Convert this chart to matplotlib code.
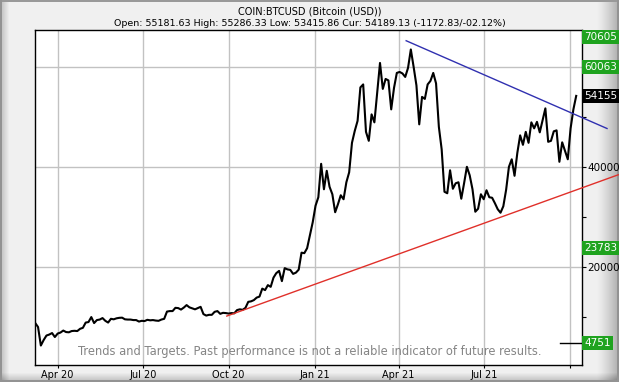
import numpy as np
import pandas as pd
import matplotlib
matplotlib.use("Agg")
import matplotlib.pyplot as plt

# BTCUSD closes, one value every 3 days from 2020-03-08
start_date = "2020-03-08"
closes = [
    8700, 7900, 4200, 5300, 6200, 6400, 6700, 5900, 6600, 6800,
    7200, 6900, 6850, 7100, 7150, 7100, 7550, 7750, 8800, 8900,
    9900, 8700, 9300, 9400, 9700, 9150, 8800, 9550, 9450, 9650,
    9750, 9780, 9450, 9400, 9400, 9300, 9300, 9000, 9150, 9100,
    9350, 9250, 9300, 9200, 9150, 9400, 9550, 11000, 11100, 11100,
    11750, 11700, 11400, 11800, 12300, 11850, 11650, 11450, 11700, 11950,
    10500, 10200, 10350, 10350, 10950, 11100, 10550, 10750, 10700, 10600,
    10700, 10650, 11300, 11450, 11350, 11750, 12950, 13050, 13300, 13800,
    14000, 15600, 15300, 16300, 15950, 17800, 18700, 19150, 17100, 19700,
    19450, 19350, 18550, 18800, 19400, 22800, 22700, 23700, 26300, 28900,
    32200, 33900, 40600, 35500, 39200, 36000, 34500, 30900, 32500, 34300,
    33500, 36900, 38900, 44800, 47200, 49200, 55900, 56500, 47000, 45200,
    50500, 48900, 54900, 60800, 55600, 57600, 57300, 51500, 55800, 58800,
    59000, 58700, 58000, 59800, 63500, 60000, 56300, 48500, 54000, 53600,
    56500, 57200, 58800, 56700, 48000, 43500, 35000, 34700, 39300, 35600,
    36700, 36900, 33600, 36700, 40000, 38300, 35500, 31000, 31600, 34500,
    33500, 35300, 33900, 33800, 32700, 31500, 30800, 32100, 35400, 40000,
    41500, 38200, 42800, 46300, 44400, 47000, 44800, 48900, 47700, 49000,
    46900, 49300, 51700, 45000, 45200, 47100, 47300, 41000, 44900, 43200,
    41500, 47700, 51500, 54200,
]

# trend lines
resist_dates = ["2021-04-09", "2021-11-10"]
resist_prices = [65250, 47670]
support_dates = ["2020-09-29", "2021-11-22"]
support_prices = [10100, 38400]

# right hand labels
targets = [70605, 60063, 23783, 4751]
current_price = 54155
grid_levels = [20000, 40000, 60000]
major_ticks = [20000, 40000, 60000]
major_labels = ["20000", "40000", ""]
minor_ticks = [10000, 30000, 50000]

quarter_dates = ["2020-04-01", "2020-07-01", "2020-10-01", "2021-01-01",
                 "2021-04-01", "2021-07-01", "2021-10-01"]
quarter_labels = ["Apr 20", "Jul 20", "Oct 20", "Jan 21", "Apr 21", "Jul 21", ""]

title = "COIN:BTCUSD (Bitcoin (USD))"
subtitle = "Open: 55181.63 High: 55286.33 Low: 53415.86 Cur: 54189.13 (-1172.83/-02.12%)"
note = "Trends and Targets. Past performance is not a reliable indicator of future results."

W, H = 619, 382
fig = plt.figure(figsize=(W / 100, H / 100), dpi=100)

# background panel with grey frame
bg = np.full((H, W), 0.945)
xs = np.arange(W)
ramp = np.clip((xs - 596) / 23.0, 0, 1)
bg -= 0.28 * ramp[None, :] ** 1.3
lramp = np.clip(1 - xs / 9.0, 0, 1)
bg -= 0.2 * lramp[None, :]
ys = np.arange(H)
bramp = np.clip((ys - 372) / 10.0, 0, 1)
bg -= 0.22 * bramp[:, None]
bg[:2, :] = 0.6
bg[:, :2] = 0.58
bg[-2:, :] = 0.58
bg[:, -2:] = 0.58
fig.figimage(np.dstack([bg, bg, bg]), xo=0, yo=0, origin="upper", zorder=-10)

ax = fig.add_axes([34.7 / W, 1 - 365 / H, 547.3 / W, 335 / H])
ax.set_zorder(1)
ax.set_facecolor("white")

dates = pd.date_range(start_date, periods=len(closes), freq="3D")
ymin, ymax = 300, 67400
ax.set_xlim(pd.Timestamp("2020-03-07 10:00"), pd.Timestamp("2021-10-14 05:00"))
ax.set_ylim(ymin, ymax)

for lvl in grid_levels:
    ax.axhline(lvl, color="#c2c2c2", lw=1, zorder=1)
for d in quarter_dates:
    ax.axvline(pd.Timestamp(d), color="#c2c2c2", lw=1, zorder=1)

ax.plot(dates, closes, color="black", lw=1.5, zorder=3)

ax.plot(pd.to_datetime(support_dates), support_prices, color="#e0302a", lw=1,
        clip_on=False, zorder=4)
ax.plot(pd.to_datetime(resist_dates), resist_prices, color="#3030b0", lw=1,
        clip_on=False, zorder=4)

ax.yaxis.tick_right()
ax.set_yticks(major_ticks)
ax.set_yticklabels(major_labels)
ax.set_yticks(minor_ticks, minor=True)
ax.tick_params(axis="y", which="both", direction="out", length=3, width=0.8,
               pad=1, labelsize=7.5)
ax.set_xticks(pd.to_datetime(quarter_dates))
ax.set_xticklabels(quarter_labels)
ax.tick_params(axis="x", direction="out", length=2, width=0.8, pad=1.5,
               labelsize=7)
for s in ax.spines.values():
    s.set_linewidth(1)

# target boxes on the right
yspan = ymax - ymin
for v in targets + [current_price]:
    yv = min(v, ymax - 7 / 335 * yspan)
    fc = "black" if v == current_price else "#1fa31f"
    ax.annotate(str(v), xy=(1, yv), xycoords=("axes fraction", "data"),
                xytext=(1.5, 0), textcoords="offset points", ha="left",
                va="center", fontsize=7.5, color="white", zorder=6,
                annotation_clip=False,
                bbox=dict(boxstyle="square,pad=0.2", fc=fc, ec="none"))

# small marker line for the lowest target
ax.plot([0.96, 1.0], [targets[-1], targets[-1]], transform=ax.get_yaxis_transform(),
        color="black", lw=1, zorder=5)

ax.text(0.503, 0.04, note, transform=ax.transAxes, ha="center", va="center",
        fontsize=8.3, color="#858585", zorder=5)

fig.text(0.5, 1 - 11 / H, title, ha="center", va="center", fontsize=7)
fig.text(0.5, 1 - 24 / H, subtitle, ha="center", va="center", fontsize=6.8)

fig.savefig("out.png", dpi=100)
